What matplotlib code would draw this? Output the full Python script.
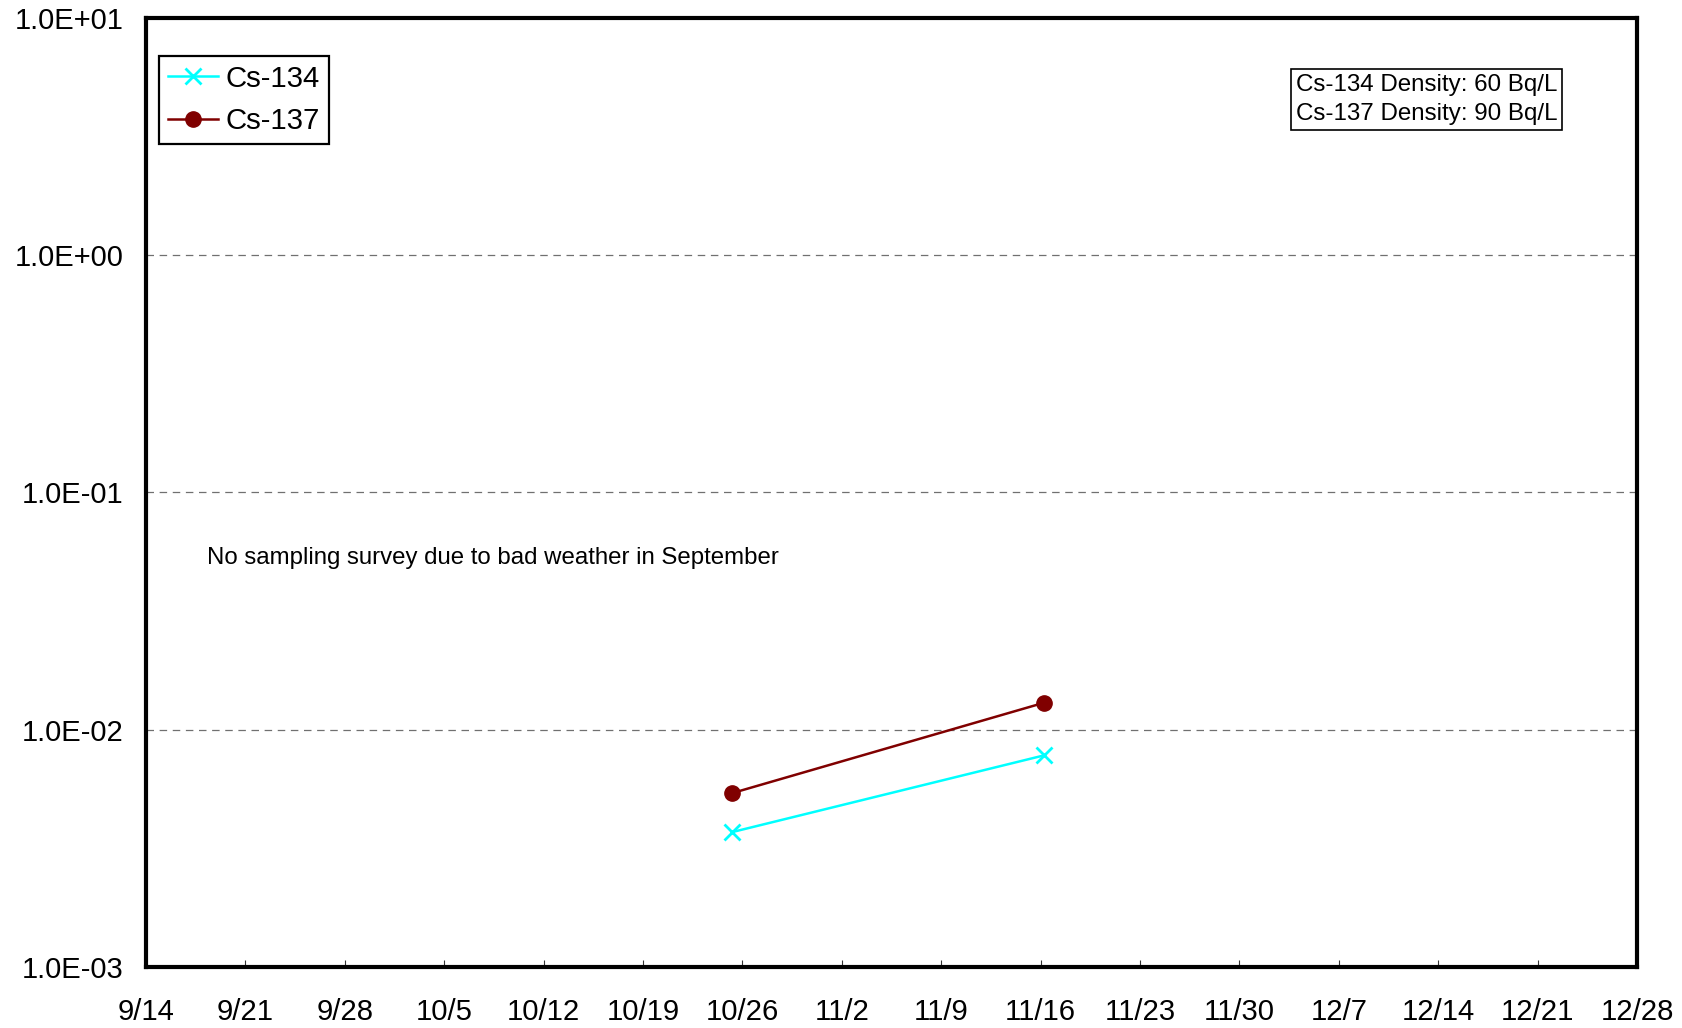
import matplotlib
matplotlib.use("Agg")
import matplotlib.pyplot as plt
import matplotlib.dates as mdates
from matplotlib.ticker import FixedLocator, NullLocator
import datetime as dt

plt.rcParams['font.family'] = ['Liberation Sans', 'DejaVu Sans']

# ---- data ----
year = 2012
sample_dates = ["10/25 06:00", "11/16 06:00"]
cs134 = [0.0037, 0.0078]
cs137 = [0.0054, 0.013]
tick_labels = ["9/14", "9/21", "9/28", "10/5", "10/12", "10/19", "10/26", "11/2",
               "11/9", "11/16", "11/23", "11/30", "12/7", "12/14", "12/21", "12/28"]
y_ticks = [1e-3, 1e-2, 1e-1, 1e0, 1e1]
y_tick_labels = ["1.0E-03", "1.0E-02", "1.0E-01", "1.0E+00", "1.0E+01"]
note_text = "No sampling survey due to bad weather in September"
density_text = "Cs-134 Density: 60 Bq/L\nCs-137 Density: 90 Bq/L"


def to_num(s):
    parts = s.split(" ")
    m, d = parts[0].split("/")
    hh = 0
    if len(parts) > 1:
        hh = int(parts[1].split(":")[0])
    return mdates.date2num(dt.datetime(year, int(m), int(d), hh))


xs = [to_num(s) for s in sample_dates]
xt = [to_num(s) for s in tick_labels]

fig = plt.figure(figsize=(16.83, 10.28), dpi=100)
ax = fig.add_axes([146 / 1683, 1 - 967 / 1028, (1637 - 146) / 1683, (967 - 18) / 1028])

ax.plot(xs, cs134, color="#00FFFF", lw=1.8, marker="x", ms=11, mew=2.0, label="Cs-134", zorder=3)
ax.plot(xs, cs137, color="#800000", lw=1.8, marker="o", ms=11, label="Cs-137", zorder=3)

ax.set_yscale("log")
ax.set_ylim(y_ticks[0], y_ticks[-1])
ax.set_xlim(xt[0], xt[-1])

ax.yaxis.set_major_locator(FixedLocator(y_ticks))
ax.yaxis.set_minor_locator(NullLocator())
ax.set_yticklabels(y_tick_labels)
ax.xaxis.set_major_locator(FixedLocator(xt))
ax.xaxis.set_minor_locator(NullLocator())
ax.set_xticklabels(tick_labels)

ax.tick_params(axis="x", direction="in", length=5, width=0.8, labelsize=21.1, pad=22, color="#333333")
ax.tick_params(axis="y", direction="in", length=0, width=0.8, labelsize=21, pad=16)

for y in y_ticks[1:-1]:
    ax.axhline(y, color="#707070", lw=0.9, ls=(0, (6, 4.5)), zorder=1)

for sp in ax.spines.values():
    sp.set_linewidth(3.0)
    sp.set_color("black")

leg = ax.legend(loc="upper left", bbox_to_anchor=(0.0087, 0.96), borderaxespad=0,
                fontsize=21.2, fancybox=False, edgecolor="black", framealpha=1,
                numpoints=1, handlelength=1.72, handletextpad=0.25, labelspacing=0.49,
                borderpad=0.3)
leg.get_frame().set_linewidth(1.6)

ax.text(0.0409, 0.431, note_text, transform=ax.transAxes, fontsize=17.3,
        ha="left", va="center")

ax.text(0.859, 0.914, density_text, transform=ax.transAxes, fontsize=17.4,
        ha="center", va="center", linespacing=1.45,
        bbox=dict(boxstyle="square,pad=0.2", fc="white", ec="black", lw=1.2))

fig.savefig("out.png", dpi=100)
